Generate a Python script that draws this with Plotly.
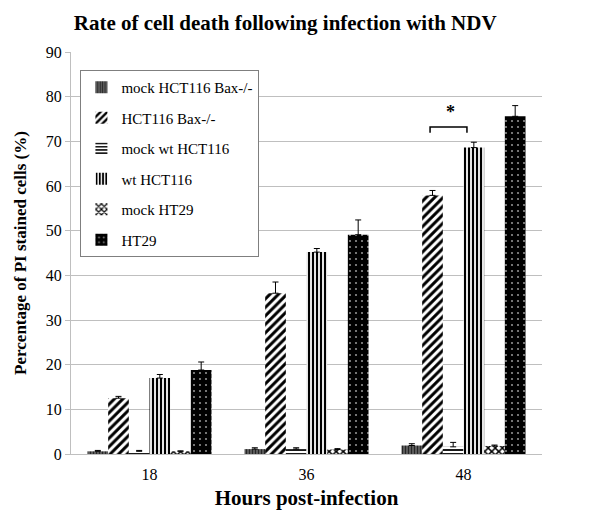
import plotly.graph_objects as go

hours = ["18", "36", "48"]
series_names = ["mock HCT116 Bax-/-", "HCT116 Bax-/-", "mock wt HCT116",
                "wt HCT116", "mock HT29", "HT29"]
mock_bax = [0.6, 1.1, 1.9]
mock_bax_err = [0.2, 0.3, 0.4]
bax = [12.5, 36.0, 57.9]
bax_err = [0.4, 2.5, 1.1]
mock_wt = [0.6, 1.1, 1.6]
mock_wt_err = [0.2, 0.3, 1.0]
wt = [17.0, 45.2, 68.6]
wt_err = [0.8, 0.8, 1.2]
mock_ht29 = [0.6, 1.0, 1.8]
mock_ht29_err = [0.1, 0.2, 0.2]
ht29 = [18.8, 49.1, 75.6]
ht29_err = [1.8, 3.3, 2.4]

values = [mock_bax, bax, mock_wt, wt, mock_ht29, ht29]
errors = [mock_bax_err, bax_err, mock_wt_err, wt_err, mock_ht29_err, ht29_err]
styles = [
    dict(color="#5a5a5a", pattern=dict(shape="|", fgcolor="#262626", bgcolor="#5a5a5a", size=3, solidity=0.35)),
    dict(color="white", pattern=dict(shape="/", fgcolor="black", bgcolor="white", size=6, solidity=0.5)),
    dict(color="white", pattern=dict(shape="-", fgcolor="black", bgcolor="white", size=4, solidity=0.45)),
    dict(color="white", pattern=dict(shape="|", fgcolor="black", bgcolor="white", size=4, solidity=0.55)),
    dict(color="white", pattern=dict(shape="x", fgcolor="black", bgcolor="white", size=5, solidity=0.5)),
    dict(color="black", pattern=dict(shape=".", fgcolor="#909090", bgcolor="black", size=6, solidity=0.1)),
]

fig = go.Figure()
for i, (name, v, e, st) in enumerate(zip(series_names, values, errors, styles)):
    pat = dict(st["pattern"], fillmode="overlay", fgopacity=1)
    fig.add_trace(go.Bar(
        x=hours, y=v, name=name, legendgroup=f"g{i}",
        marker=dict(color=st["color"], pattern=pat, line=dict(width=0)),
        error_y=dict(type="data", array=e, arrayminus=[0] * len(e), symmetric=False,
                     color="black", thickness=1, width=3),
    ))

serif = "Liberation Serif"
fig.update_layout(
    width=600, height=520,
    paper_bgcolor="white", plot_bgcolor="white",
    margin=dict(l=63, r=66, t=44, b=74),
    barmode="group", bargap=0.21, bargroupgap=0,
    font=dict(family=serif, color="black", size=15),
    title=dict(text="<b>Rate of cell death following infection with NDV</b>",
               x=0.462, xanchor="center", y=0.972, yanchor="middle",
               font=dict(family=serif, size=21, color="black")),
    xaxis=dict(type="category", showline=True, linecolor="#bfbfbf", linewidth=1,
               ticks="", tickfont=dict(size=16, family=serif), ticklabelstandoff=6,
               title=dict(text="<b>Hours post-infection</b>", font=dict(size=21, family=serif), standoff=8)),
    yaxis=dict(range=[0, 90], dtick=10, showline=True, linecolor="#bfbfbf", linewidth=1,
               ticks="outside", ticklen=5, tickcolor="#bfbfbf",
               gridcolor="#bfbfbf", gridwidth=1, zeroline=False,
               tickfont=dict(size=16, family=serif),
               title=dict(text="<b>Percentage of PI stained cells (%)</b>", font=dict(size=17, family=serif), standoff=14)),
    legend=dict(x=0.02, y=0.955, xanchor="left", yanchor="top",
                bgcolor="white", bordercolor="#7f7f7f", borderwidth=1,
                font=dict(size=15, family=serif, color="black"),
                tracegroupgap=8, itemwidth=30, traceorder="grouped"),
)

# significance bracket over the 48 h group
fig.add_shape(type="path", xref="x", yref="y",
              path="M 1.787 71.9 L 1.787 73.2 L 2.022 73.2 L 2.022 71.9",
              line=dict(color="black", width=1.5))
fig.add_annotation(x=1.914, y=76.6, xref="x", yref="y", text="<b>*</b>", showarrow=False,
                   font=dict(size=18, family=serif, color="black"))

fig.write_html("out.html")
